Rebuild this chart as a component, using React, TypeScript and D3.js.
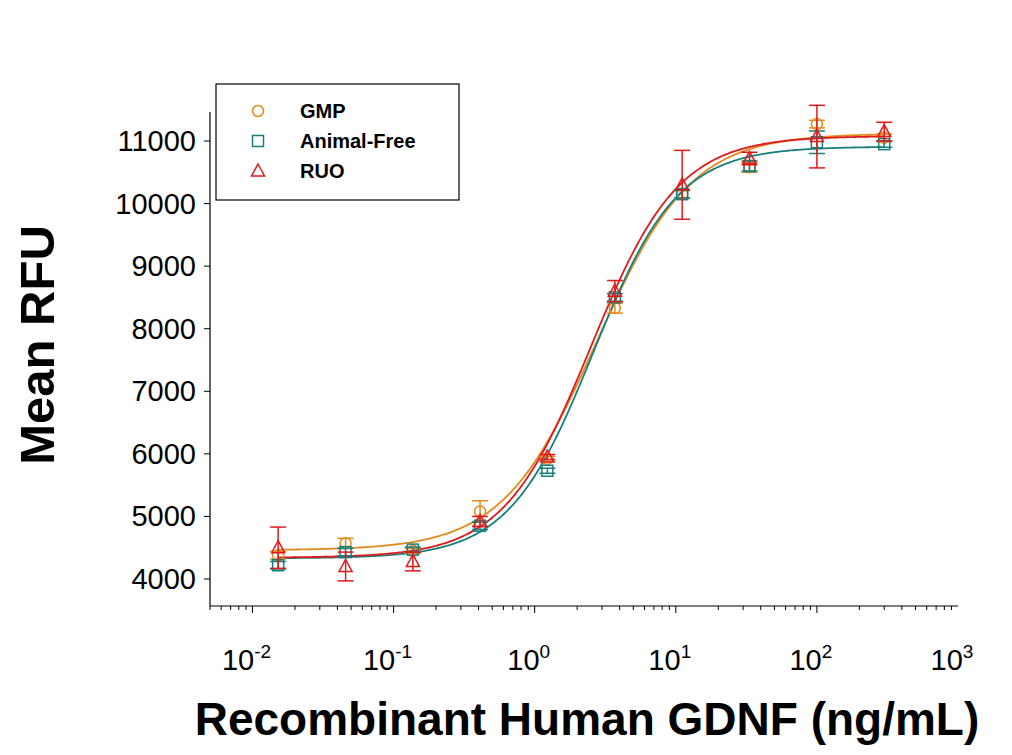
import * as d3 from "d3";

const conc = [0.0152, 0.0457, 0.137, 0.41, 1.23, 3.7, 11.1, 33.3, 100, 300];
const gmpVals = [4380, 4570, 4450, 5080, 5920, 8330, 10150, 10580, 11270, 11050];
const gmpErr = [60, 80, 40, 170, 40, 80, 60, 80, 60, 60];
const afVals = [4220, 4430, 4470, 4850, 5730, 8500, 10150, 10600, 10980, 10950];
const afErr = [60, 60, 40, 60, 40, 60, 60, 80, 180, 50];
const ruoVals = [4500, 4200, 4280, 4920, 5950, 8600, 10300, 10720, 11070, 11150];
const ruoErr = [330, 230, 150, 80, 40, 170, 550, 100, 500, 150];
const yTicks = [4000, 5000, 6000, 7000, 8000, 9000, 10000, 11000];
const xTicks = [-2, -1, 0, 1, 2, 3];

// 4PL fit parameters: bottom, top, ec50, hill
const series = [
  { name: "GMP", color: "#E28B1C", shape: "circle", vals: gmpVals, err: gmpErr, fit: [4460, 11120, 2.75, 1.3] },
  { name: "Animal-Free", color: "#17807C", shape: "square", vals: afVals, err: afErr, fit: [4330, 10910, 2.6, 1.45] },
  { name: "RUO", color: "#E0191B", shape: "triangle", vals: ruoVals, err: ruoErr, fit: [4340, 11080, 2.5, 1.4] },
];

const x = d3.scaleLog().domain([0.005, 1000]).range([210, 958]);
const y = d3.scaleLinear().domain([4000, 11000]).range([579, 141]);

const marker = (shape: string, cx: number, cy: number, color: string) => {
  const s = 5.5;
  if (shape === "circle") return <circle cx={cx} cy={cy} r={s} fill="none" stroke={color} strokeWidth={1.5} />;
  if (shape === "square") return <rect x={cx - s} y={cy - s} width={2 * s} height={2 * s} fill="none" stroke={color} strokeWidth={1.5} />;
  return <path d={`M${cx},${cy - 7}L${cx + 6.5},${cy + 5}L${cx - 6.5},${cy + 5}Z`} fill="none" stroke={color} strokeWidth={1.5} />;
};

export default function App() {
  const minor: number[] = [];
  for (let e = -3; e <= 2; e++) for (let k = 1; k <= 9; k++) {
    const v = k * Math.pow(10, e);
    if (v >= 0.005 && v <= 1000) minor.push(v);
  }
  const grid = d3.range(Math.log10(0.0152), Math.log10(301), 0.01).map((l) => Math.pow(10, l));
  const font = "Arial, 'Liberation Sans', sans-serif";
  return (
    <svg width={1012} height={755} style={{ position: "absolute", left: 0, top: 0, background: "#fff" }} fontFamily={font}>
      <line x1={210} x2={210} y1={112} y2={606} stroke="#000" strokeWidth={1.2} />
      <line x1={210} x2={958} y1={606} y2={606} stroke="#000" strokeWidth={1.2} />
      {yTicks.map((t) => (
        <g key={t}>
          <line x1={204} x2={210} y1={y(t)} y2={y(t)} stroke="#000" />
          <text x={196} y={y(t) + 10} textAnchor="end" fontSize={29}>{t}</text>
        </g>
      ))}
      {minor.map((v, i) => {
        const major = Math.abs(Math.log10(v) - Math.round(Math.log10(v))) < 1e-6;
        return <line key={i} x1={x(v)} x2={x(v)} y1={606} y2={major ? 613 : 610} stroke="#000" />;
      })}
      {xTicks.map((e) => (
        <text key={e} x={x(Math.pow(10, e)) - 6} y={670} textAnchor="middle" fontSize={29}>
          10<tspan dy={-12} fontSize={19}>{e}</tspan>
        </text>
      ))}
      {series.map((s) => {
        const [b, t, ec, h] = s.fit;
        const f = (c: number) => b + (t - b) / (1 + Math.pow(ec / c, h));
        const line = d3.line<number>().x((c) => x(c)).y((c) => y(f(c)));
        return <path key={s.name} d={line(grid) || ""} fill="none" stroke={s.color} strokeWidth={1.8} />;
      })}
      {series.map((s) => (
        <g key={s.name}>
          {conc.map((c, i) => {
            const cx = x(c);
            const top = y(s.vals[i] + s.err[i]);
            const bot = y(s.vals[i] - s.err[i]);
            return (
              <g key={i}>
                <line x1={cx} x2={cx} y1={top} y2={bot} stroke={s.color} strokeWidth={1.5} />
                <line x1={cx - 8} x2={cx + 8} y1={top} y2={top} stroke={s.color} strokeWidth={1.5} />
                <line x1={cx - 8} x2={cx + 8} y1={bot} y2={bot} stroke={s.color} strokeWidth={1.5} />
                {marker(s.shape, cx, y(s.vals[i]), s.color)}
              </g>
            );
          })}
        </g>
      ))}
      <rect x={216} y={84} width={243} height={116} fill="#fff" stroke="#000" strokeWidth={1.2} />
      {series.map((s, i) => (
        <g key={s.name}>
          {marker(s.shape, 258, 111 + i * 30, s.color)}
          <text x={300} y={118 + i * 30} fontSize={20} fontWeight="bold">{s.name}</text>
        </g>
      ))}
      <text transform="translate(54,345) rotate(-90)" textAnchor="middle" fontSize={49} fontWeight="bold">Mean RFU</text>
      <text x={587} y={735} textAnchor="middle" fontSize={46} fontWeight="bold">Recombinant Human GDNF (ng/mL)</text>
    </svg>
  );
}
